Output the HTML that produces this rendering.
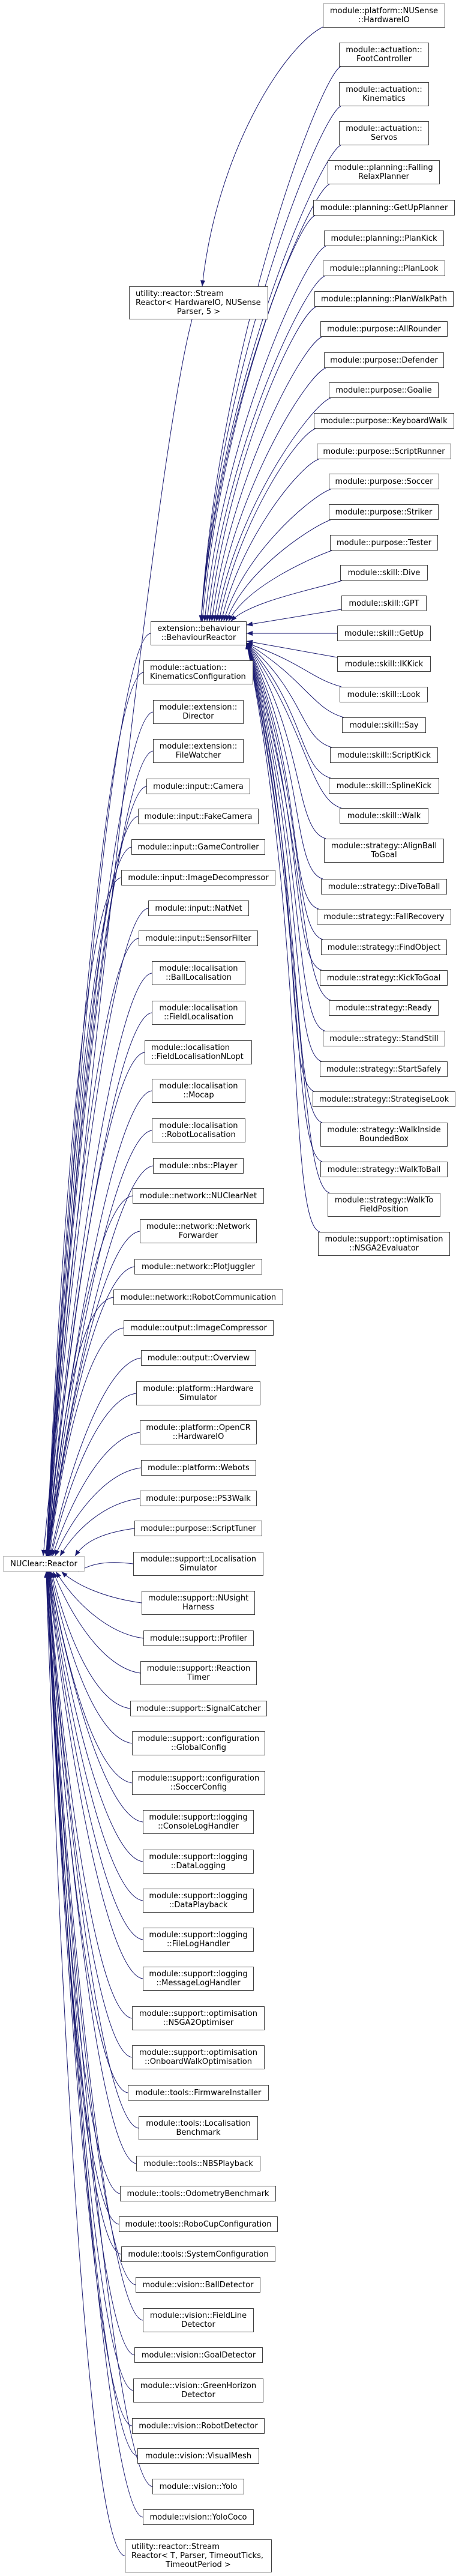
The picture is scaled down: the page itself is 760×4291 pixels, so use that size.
<!DOCTYPE html>
<html><head><meta charset="utf-8"><style>
body{margin:0;background:#fff;}
#c{position:relative;width:760px;height:4291px;overflow:hidden;}
.n{position:absolute;box-sizing:border-box;border:1px solid #404040;background:#fff;display:flex;flex-direction:column;align-items:center;justify-content:center;text-align:center;font:13px/15px "DejaVu Sans","Liberation Sans",sans-serif;color:#000;white-space:nowrap;}
svg{position:absolute;left:0;top:0;}
</style></head><body><div id="c">
<svg id="s" width="760" height="4291"><defs><marker id="a" markerUnits="userSpaceOnUse" markerWidth="11" markerHeight="8" refX="10" refY="4" orient="auto"><path d="M0,0 L10,4 L0,8 z" fill="#191970"/></marker></defs></svg>

<div class="n" style="left:5px;top:2592px;width:136px;height:26px;border-color:#bfbfbf">NUClear::Reactor</div>

<div class="n r0" style="left:538px;top:6px;width:204px;height:40px">module::platform::NUSense<br>::HardwareIO</div>
<div class="n r" style="left:565px;top:71px;width:150px;height:40px">module::actuation::<br>FootController</div>
<div class="n r" style="left:565px;top:137px;width:150px;height:40px">module::actuation::<br>Kinematics</div>
<div class="n r" style="left:565px;top:202px;width:150px;height:40px">module::actuation::<br>Servos</div>
<div class="n r" style="left:546px;top:267px;width:187px;height:40px">module::planning::Falling<br>RelaxPlanner</div>
<div class="n r" style="left:522px;top:333px;width:236px;height:26px">module::planning::GetUpPlanner</div>
<div class="n r" style="left:540px;top:384px;width:200px;height:26px">module::planning::PlanKick</div>
<div class="n r" style="left:538px;top:434px;width:204px;height:26px">module::planning::PlanLook</div>
<div class="n r" style="left:524px;top:485px;width:232px;height:26px">module::planning::PlanWalkPath</div>
<div class="n r" style="left:534px;top:535px;width:212px;height:26px">module::purpose::AllRounder</div>
<div class="n r" style="left:540px;top:587px;width:200px;height:26px">module::purpose::Defender</div>
<div class="n r" style="left:548px;top:637px;width:183px;height:26px">module::purpose::Goalie</div>
<div class="n r" style="left:523px;top:688px;width:234px;height:26px">module::purpose::KeyboardWalk</div>
<div class="n r" style="left:528px;top:739px;width:224px;height:26px">module::purpose::ScriptRunner</div>
<div class="n r" style="left:548px;top:789px;width:184px;height:26px">module::purpose::Soccer</div>
<div class="n r" style="left:548px;top:840px;width:183px;height:26px">module::purpose::Striker</div>
<div class="n r" style="left:550px;top:891px;width:180px;height:26px">module::purpose::Tester</div>
<div class="n r" style="left:567px;top:941px;width:146px;height:26px">module::skill::Dive</div>
<div class="n r" style="left:569px;top:992px;width:142px;height:26px">module::skill::GPT</div>
<div class="n r" style="left:562px;top:1042px;width:156px;height:26px">module::skill::GetUp</div>
<div class="n r" style="left:562px;top:1093px;width:156px;height:26px">module::skill::IKKick</div>
<div class="n r" style="left:566px;top:1144px;width:147px;height:26px">module::skill::Look</div>
<div class="n r" style="left:570px;top:1195px;width:140px;height:26px">module::skill::Say</div>
<div class="n r" style="left:550px;top:1245px;width:180px;height:26px">module::skill::ScriptKick</div>
<div class="n r" style="left:548px;top:1296px;width:184px;height:26px">module::skill::SplineKick</div>
<div class="n r" style="left:566px;top:1346px;width:148px;height:26px">module::skill::Walk</div>
<div class="n r" style="left:540px;top:1397px;width:200px;height:40px">module::strategy::AlignBall<br>ToGoal</div>
<div class="n r" style="left:535px;top:1464px;width:210px;height:26px">module::strategy::DiveToBall</div>
<div class="n r" style="left:528px;top:1514px;width:224px;height:26px">module::strategy::FallRecovery</div>
<div class="n r" style="left:535px;top:1565px;width:210px;height:26px">module::strategy::FindObject</div>
<div class="n r" style="left:533px;top:1616px;width:213px;height:26px">module::strategy::KickToGoal</div>
<div class="n r" style="left:548px;top:1666px;width:183px;height:26px">module::strategy::Ready</div>
<div class="n r" style="left:538px;top:1717px;width:204px;height:26px">module::strategy::StandStill</div>
<div class="n r" style="left:533px;top:1768px;width:213px;height:26px">module::strategy::StartSafely</div>
<div class="n r" style="left:521px;top:1818px;width:238px;height:26px">module::strategy::StrategiseLook</div>
<div class="n r" style="left:534px;top:1870px;width:212px;height:40px">module::strategy::WalkInside<br>BoundedBox</div>
<div class="n r" style="left:534px;top:1935px;width:212px;height:26px">module::strategy::WalkToBall</div>
<div class="n r" style="left:546px;top:1987px;width:188px;height:40px">module::strategy::WalkTo<br>FieldPosition</div>
<div class="n r" style="left:530px;top:2052px;width:220px;height:40px">module::support::optimisation<br>::NSGA2Evaluator</div>

<div class="n m0" style="left:215px;top:477px;width:232px;height:55px;align-items:stretch"><span style="text-align:left;padding-left:10px">utility::reactor::Stream<br>Reactor&lt; HardwareIO, NUSense</span><span>Parser, 5 &gt;</span></div>
<div class="n m" style="left:251px;top:1035px;width:160px;height:40px">extension::behaviour<br>::BehaviourReactor</div>
<div class="n m" style="left:239px;top:1100px;width:183px;height:40px;align-items:flex-start;text-align:left;padding-left:10px">module::actuation::<br>KinematicsConfiguration</div>
<div class="n m" style="left:255px;top:1166px;width:151px;height:40px">module::extension::<br>Director</div>
<div class="n m" style="left:255px;top:1231px;width:151px;height:40px">module::extension::<br>FileWatcher</div>
<div class="n m" style="left:244px;top:1297px;width:173px;height:26px">module::input::Camera</div>
<div class="n m" style="left:230px;top:1347px;width:201px;height:26px">module::input::FakeCamera</div>
<div class="n m" style="left:219px;top:1398px;width:223px;height:26px">module::input::GameController</div>
<div class="n m" style="left:202px;top:1449px;width:257px;height:26px">module::input::ImageDecompressor</div>
<div class="n m" style="left:247px;top:1500px;width:168px;height:26px">module::input::NatNet</div>
<div class="n m" style="left:231px;top:1550px;width:199px;height:26px">module::input::SensorFilter</div>
<div class="n m" style="left:253px;top:1601px;width:156px;height:40px">module::localisation<br>::BallLocalisation</div>
<div class="n m" style="left:253px;top:1667px;width:156px;height:40px">module::localisation<br>::FieldLocalisation</div>
<div class="n m" style="left:241px;top:1733px;width:179px;height:40px;align-items:flex-start;text-align:left;padding-left:10px">module::localisation<br>::FieldLocalisationNLopt</div>
<div class="n m" style="left:253px;top:1797px;width:156px;height:40px">module::localisation<br>::Mocap</div>
<div class="n m" style="left:253px;top:1863px;width:156px;height:40px">module::localisation<br>::RobotLocalisation</div>
<div class="n m" style="left:255px;top:1929px;width:151px;height:26px">module::nbs::Player</div>
<div class="n m" style="left:221px;top:1979px;width:219px;height:26px">module::network::NUClearNet</div>
<div class="n m" style="left:233px;top:2031px;width:195px;height:40px">module::network::Network<br>Forwarder</div>
<div class="n m" style="left:224px;top:2097px;width:213px;height:26px">module::network::PlotJuggler</div>
<div class="n m" style="left:189px;top:2148px;width:283px;height:26px">module::network::RobotCommunication</div>
<div class="n m" style="left:206px;top:2199px;width:250px;height:26px">module::output::ImageCompressor</div>
<div class="n m" style="left:235px;top:2249px;width:192px;height:26px">module::output::Overview</div>
<div class="n m" style="left:227px;top:2301px;width:207px;height:40px">module::platform::Hardware<br>Simulator</div>
<div class="n m" style="left:233px;top:2366px;width:195px;height:40px">module::platform::OpenCR<br>::HardwareIO</div>
<div class="n m" style="left:235px;top:2432px;width:192px;height:26px">module::platform::Webots</div>
<div class="n m" style="left:233px;top:2483px;width:195px;height:26px">module::purpose::PS3Walk</div>
<div class="n m" style="left:224px;top:2533px;width:213px;height:26px">module::purpose::ScriptTuner</div>
<div class="n m" style="left:222px;top:2585px;width:217px;height:40px">module::support::Localisation<br>Simulator</div>
<div class="n m" style="left:236px;top:2650px;width:189px;height:40px">module::support::NUsight<br>Harness</div>
<div class="n m" style="left:239px;top:2716px;width:184px;height:26px">module::support::Profiler</div>
<div class="n m" style="left:234px;top:2767px;width:194px;height:40px">module::support::Reaction<br>Timer</div>
<div class="n m" style="left:217px;top:2833px;width:228px;height:26px">module::support::SignalCatcher</div>
<div class="n m" style="left:220px;top:2884px;width:222px;height:40px">module::support::configuration<br>::GlobalConfig</div>
<div class="n m" style="left:220px;top:2950px;width:222px;height:40px">module::support::configuration<br>::SoccerConfig</div>
<div class="n m" style="left:238px;top:3015px;width:185px;height:40px">module::support::logging<br>::ConsoleLogHandler</div>
<div class="n m" style="left:238px;top:3081px;width:185px;height:40px">module::support::logging<br>::DataLogging</div>
<div class="n m" style="left:238px;top:3146px;width:185px;height:40px">module::support::logging<br>::DataPlayback</div>
<div class="n m" style="left:238px;top:3211px;width:185px;height:40px">module::support::logging<br>::FileLogHandler</div>
<div class="n m" style="left:238px;top:3276px;width:185px;height:40px">module::support::logging<br>::MessageLogHandler</div>
<div class="n m" style="left:220px;top:3342px;width:221px;height:40px">module::support::optimisation<br>::NSGA2Optimiser</div>
<div class="n m" style="left:220px;top:3407px;width:221px;height:40px">module::support::optimisation<br>::OnboardWalkOptimisation</div>
<div class="n m" style="left:213px;top:3473px;width:235px;height:26px">module::tools::FirmwareInstaller</div>
<div class="n m" style="left:231px;top:3525px;width:199px;height:40px">module::tools::Localisation<br>Benchmark</div>
<div class="n m" style="left:227px;top:3591px;width:207px;height:26px">module::tools::NBSPlayback</div>
<div class="n m" style="left:200px;top:3641px;width:260px;height:26px">module::tools::OdometryBenchmark</div>
<div class="n m" style="left:198px;top:3692px;width:265px;height:26px">module::tools::RoboCupConfiguration</div>
<div class="n m" style="left:202px;top:3742px;width:257px;height:26px">module::tools::SystemConfiguration</div>
<div class="n m" style="left:226px;top:3793px;width:208px;height:26px">module::vision::BallDetector</div>
<div class="n m" style="left:238px;top:3845px;width:185px;height:40px">module::vision::FieldLine<br>Detector</div>
<div class="n m" style="left:224px;top:3910px;width:214px;height:26px">module::vision::GoalDetector</div>
<div class="n m" style="left:222px;top:3962px;width:217px;height:40px">module::vision::GreenHorizon<br>Detector</div>
<div class="n m" style="left:220px;top:4028px;width:221px;height:26px">module::vision::RobotDetector</div>
<div class="n m" style="left:229px;top:4078px;width:203px;height:26px">module::vision::VisualMesh</div>
<div class="n m" style="left:254px;top:4129px;width:153px;height:26px">module::vision::Yolo</div>
<div class="n m" style="left:238px;top:4180px;width:185px;height:26px">module::vision::YoloCoco</div>
<div class="n m" style="left:208px;top:4230px;width:245px;height:55px;align-items:stretch"><span style="text-align:left;padding-left:10px">utility::reactor::Stream<br>Reactor&lt; T, Parser, TimeoutTicks,</span><span>TimeoutPeriod &gt;</span></div>
</div>
<script>
var s=document.getElementById('s'),NS='http://www.w3.org/2000/svg';
function P(d){var p=document.createElementNS(NS,'path');p.setAttribute('d',d);p.setAttribute('fill','none');p.setAttribute('stroke','#191970');p.setAttribute('stroke-width','1');p.setAttribute('marker-end','url(#a)');s.appendChild(p);}
function b(e){return {x1:e.offsetLeft,y1:e.offsetTop,x2:e.offsetLeft+e.offsetWidth,y2:e.offsetTop+e.offsetHeight};}
P('M538,45 C470,80 360,260 337,477');
P('M320,532 C250,800 110,2200 72,2592');
var ms=document.querySelectorAll('.m'),above=[],below=[];
ms.forEach(function(e){var r=b(e),ym=(r.y1+r.y2)/2;if(ym<2604)above.push(r);else below.push(r);});
above.forEach(function(r,i){var ym=(r.y1+r.y2)/2,d=above.length-i;
 if(r.y1===2585){P('M'+r.x1+','+(ym+1)+' L141,'+(ym+1));return;}
 var tx=75+50/d,ty=2592;
 P('M'+r.x1+','+ym+' C'+(r.x1-60)+','+(ym+8)+' '+(tx+(r.x1-60-tx)*0.35)+','+(ty-(ty-ym)*0.45)+' '+tx+','+ty);});
below.forEach(function(r,i){var ym=(r.y1+r.y2)/2,d=i+1;
 var tx=75+55/d,ty=2618;
 P('M'+r.x1+','+ym+' C'+(r.x1-60)+','+(ym-8)+' '+(tx+(r.x1-60-tx)*0.35)+','+(ty+(ym-ty)*0.45)+' '+tx+','+ty);});
var rs=document.querySelectorAll('.r');
rs.forEach(function(e){var r=b(e),ym=(r.y1+r.y2)/2;
 if(ym<1020){var f=Math.max(0,Math.min(1,1-(1020-ym)/700));var tx=335+55*f,ty=1035;
  if(ym>990){P('M'+r.x1+','+(r.y2-3)+' L411,1041');return;}
  P('M'+(r.x1+3)+','+r.y2+' C'+(r.x1-30)+','+(r.y2+12)+' '+(tx+30)+','+(ty-(ty-r.y2)*0.5)+' '+tx+','+ty);}
 else if(ym<1060){P('M'+r.x1+','+ym+' L411,'+ym);}
 else if(ym<1110){P('M'+r.x1+','+(r.y1+2)+' L411,1068');}
 else{P('M'+(r.x1+3)+','+r.y1+' C'+(r.x1-50)+','+(r.y1-15)+' 510,'+(1070+(r.y1-1070)*0.5)+' 411,1071');}
});
</script>
</body></html>
